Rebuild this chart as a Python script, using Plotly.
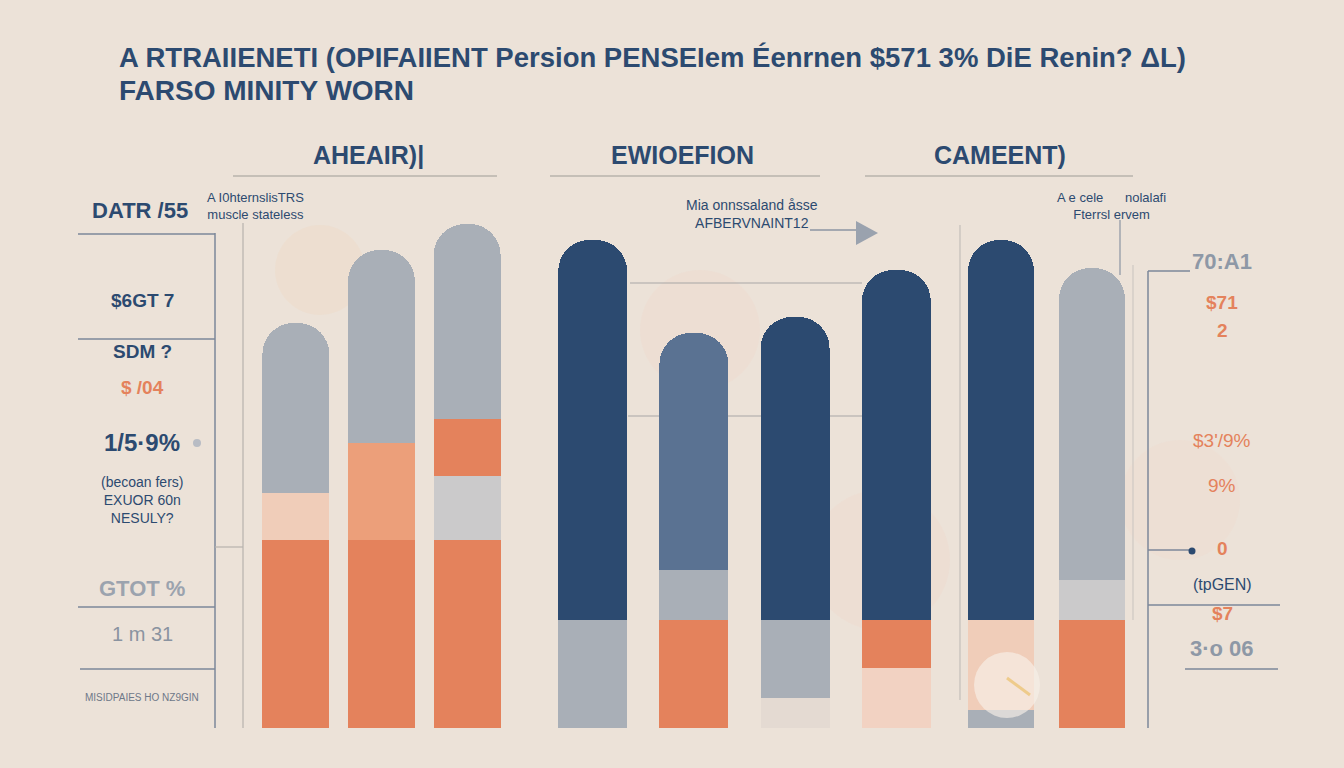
import plotly.graph_objects as go

W, H = 1344, 768
def px(x): return x / W
def py(y): return 1 - y / H

# ---------------- data ----------------
groups = ["AHEAIR)|", "EWIOEFION", "CAMEENT)"]
bar_names = [["a1", "a2", "a3"], ["b1", "b2", "b3", "b4"], ["c1", "c2"]]
layer_base = [[37.6, 37.6, 37.6], [21.6, 21.6, 6.0, 12.0], [3.6, 21.6]]
layer_mid = [[9.4, 19.4, 12.8], [0.0, 10.0, 15.6, 9.6], [18.0, 8.0]]
layer_upper = [[0.0, 0.0, 11.4], [0.0, 0.0, 0.0, 0.0], [0.0, 0.0]]
layer_cap = [[34.0, 38.6, 39.0], [76.0, 47.4, 60.6, 70.0], [76.0, 62.4]]

left_labels = ["$6GT 7", "ЅDM ?", "$ /04", "1/5·9%", "(becoan fers)<br>EXUOR 60n<br>NESULY?", "GTOT %", "1 m 31", "MISIDPAIES HO NZ9GIN"]
right_labels = ["70:A1", "$71", "2", "$3'/9%", "9%", "0", "(tpGEN)", "$7", "3·o 06"]

# ---------------- styles ----------------
BG = "#ECE2D8"
NAVY = "#2C4A70"
SLATE = "#5A7292"
GRAY = "#A9AFB7"
LGRAY = "#CBCACB"
ORANGE = "#E4825C"
LORANGE = "#EC9F7A"
PEACH = "#F0CDB9"
PEACH2 = "#F2D2C2"
LINE = "#8C95A3"

colors_base = [[ORANGE, ORANGE, ORANGE], [GRAY, ORANGE, "#E4DAD2", PEACH2], [GRAY, ORANGE]]
colors_mid = [[PEACH, LORANGE, LGRAY], [GRAY, GRAY, GRAY, ORANGE], [PEACH, LGRAY]]
colors_upper = [[ORANGE, ORANGE, ORANGE], [NAVY, NAVY, NAVY, NAVY], [NAVY, GRAY]]
colors_cap = [[GRAY, GRAY, GRAY], [NAVY, SLATE, NAVY, NAVY], [NAVY, GRAY]]

domains = [[253 / W, 510 / W], [542 / W, 947 / W], [955.5 / W, 1137.5 / W]]
widths = [0.78, 0.68, 0.725]

fig = go.Figure()
layers = [(layer_base, colors_base), (layer_mid, colors_mid), (layer_upper, colors_upper), (layer_cap, colors_cap)]
for g in range(3):
    xa = "x" if g == 0 else f"x{g+1}"
    ya = "y" if g == 0 else f"y{g+1}"
    for vals, cols in layers:
        fig.add_trace(go.Bar(
            x=bar_names[g], y=vals[g], marker=dict(color=cols[g], line=dict(width=0)),
            width=widths[g], xaxis=xa, yaxis=ya, showlegend=False, hoverinfo="skip"))

yr = [-8, 145.6]
lay = dict(
    width=W, height=H, margin=dict(l=0, r=0, t=0, b=0),
    paper_bgcolor=BG, plot_bgcolor="rgba(0,0,0,0)",
    barmode="stack", barcornerradius=31, showlegend=False,
)
for g in range(3):
    k = "" if g == 0 else str(g + 1)
    lay["xaxis" + k] = dict(domain=domains[g], showticklabels=False, showgrid=False, zeroline=False,
                            anchor="y" + k, fixedrange=True)
    lay["yaxis" + k] = dict(domain=[0, 1], range=yr, showticklabels=False, showgrid=False,
                            zeroline=False, anchor="x" + k, fixedrange=True)
fig.update_layout(**lay)

shapes = []
def hline(x0, x1, y, color=LINE, w=1.5):
    shapes.append(dict(type="line", xref="paper", yref="paper", x0=px(x0), x1=px(x1), y0=py(y), y1=py(y),
                       line=dict(color=color, width=w), layer="below"))
def vline(x, y0, y1, color=LINE, w=1.5):
    shapes.append(dict(type="line", xref="paper", yref="paper", x0=px(x), x1=px(x), y0=py(y0), y1=py(y1),
                       line=dict(color=color, width=w), layer="below"))

# decorative soft blobs
for (cx, cy, r, col) in [(320, 270, 45, "rgba(245,205,170,0.16)"), (700, 330, 60, "rgba(245,200,180,0.12)"),
                         (880, 560, 70, "rgba(245,200,180,0.12)"), (1180, 500, 60, "rgba(245,205,190,0.12)")]:
    shapes.append(dict(type="circle", xref="paper", yref="paper", x0=px(cx - r), x1=px(cx + r),
                       y0=py(cy + r), y1=py(cy - r), fillcolor=col, line=dict(width=0), layer="below"))
# bright disc over the bottom of the third group
shapes.append(dict(type="circle", xref="paper", yref="paper", x0=px(974), x1=px(1040),
                   y0=py(718), y1=py(652), fillcolor="rgba(248,240,232,0.65)", line=dict(width=0)))
shapes.append(dict(type="line", xref="paper", yref="paper", x0=px(1007), x1=px(1030), y0=py(678), y1=py(695),
                   line=dict(color="rgba(236,196,120,0.8)", width=3)))

# group underlines
hline(233, 497, 176, "#B9B3AD", 1.5)
hline(550, 820, 176, "#B9B3AD", 1.5)
hline(865, 1133, 176, "#B9B3AD", 1.5)
# left table
vline(215, 233, 728, "#7D879A", 1.5)
vline(243, 223, 728, "#B7B2AE", 1.2)
hline(78, 215, 234, "#7D879A", 1.5)
hline(78, 215, 339, "#7D879A", 1.5)
hline(78, 215, 607, "#7D879A", 1.5)
hline(80, 215, 669, "#7D879A", 1.5)
hline(215, 243, 547, "#B7B2AE", 1.2)
# middle guide lines
hline(630, 862, 283, "#A7A5A6", 1.2)
hline(628, 862, 416, "#A7A5A6", 1.2)
vline(960, 225, 700, "#C4BFBA", 1.2)
vline(1120, 220, 275, "#8C95A3", 1.2)
vline(1133, 265, 620, "#CFC9C3", 1.2)
# right table
vline(1148, 271, 728, "#7D879A", 1.5)
hline(1148, 1190, 271, "#7D879A", 1.5)
hline(1148, 1190, 550, "#7D879A", 1.5)
hline(1148, 1280, 605, "#7D879A", 1.5)
hline(1185, 1278, 669, "#7D879A", 1.5)
# arrow
hline(810, 860, 230, "#8C95A3", 1.5)
shapes.append(dict(type="path", xref="paper", yref="paper",
                   path=f"M {px(856)} {py(221)} L {px(878)} {py(233)} L {px(856)} {py(245)} Z",
                   fillcolor="#9AA2AE", line=dict(width=0)))
# dots
for (cx, cy, r, col) in [(197, 443, 4, "#B8BCC4"), (1192, 551, 3.5, NAVY)]:
    shapes.append(dict(type="circle", xref="paper", yref="paper", x0=px(cx - r), x1=px(cx + r),
                       y0=py(cy + r), y1=py(cy - r), fillcolor=col, line=dict(width=0)))
fig.update_layout(shapes=shapes)

NARROW = "Liberation Sans Narrow, Arial Narrow, Liberation Sans, Arial"
ann = []
def text(x, y, s, size, color=NAVY, bold=False, anchor="center", family=NARROW):
    if bold:
        s = f"<b>{s}</b>"
    ann.append(dict(x=px(x), y=py(y), xref="paper", yref="paper", text=s, showarrow=False,
                    xanchor=anchor, yanchor="middle", font=dict(size=size, color=color, family=family)))

text(117, 57, "A RTRAIIENETI (OPIFAIIENT Persion PENSEIem Éenrnen $571 3% DiE Renin? ΔL)", 27.5, NAVY, True, "left")
text(117, 90, "FARSO MINITY WORN", 28, NAVY, True, "left")
text(368, 155, groups[0], 25, NAVY, True)
text(682, 155, groups[1], 25, NAVY, True)
text(1000, 155, groups[2], 25, NAVY, True)

text(90, 210, "DATR /55", 22, NAVY, True, "left")
text(205, 206, "A I0hternslisTRS<br>muscle stateless", 13, NAVY, False, "left")
text(1055, 206, "A e cele      nolalafi<br>Fterrsl ervem", 13, NAVY, False, "left")
text(752, 214, "Mia onnssaland åsse<br>AFBERVNAINT12", 14, NAVY, False)

lcol = [NAVY, NAVY, ORANGE, NAVY, NAVY, "#9BA3AE", "#8A93A0", "#6E7888"]
ly = [301, 352, 387, 442, 500, 588, 634, 697]
lsz = [19, 19, 19, 24, 14, 22, 20, 10]
lb = [True, True, True, True, False, True, False, False]
for s, c, y, z, b in zip(left_labels, lcol, ly, lsz, lb):
    text(142, y, s, z, c, b)

rcol = ["#8E98A6", ORANGE, ORANGE, ORANGE, ORANGE, ORANGE, NAVY, ORANGE, "#8E98A6"]
ry = [262, 302, 331, 440, 485, 548, 584, 613, 648]
rsz = [22, 19, 19, 19, 19, 19, 16, 19, 22]
rb = [True, True, True, False, False, True, False, True, True]
for s, c, y, z, b in zip(right_labels, rcol, ry, rsz, rb):
    text(1222, y, s, z, c, b)

fig.update_layout(annotations=ann)
fig.write_html("out.html", config={"displayModeBar": False})
